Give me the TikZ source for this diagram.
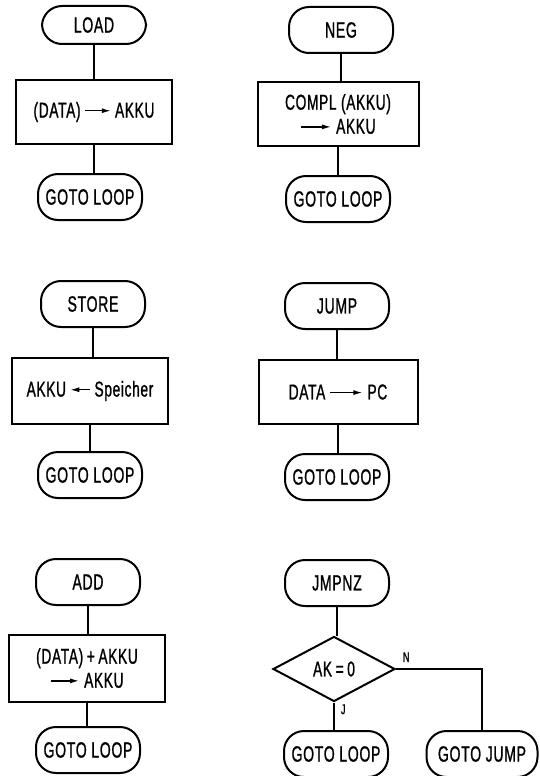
\documentclass[tikz,border=0pt]{standalone}
\usepackage{fontspec}
\setmainfont{Liberation Sans}[FakeStretch=0.64,LetterSpace=3,FakeBold=1]
\usetikzlibrary{shapes.geometric,arrows.meta}
\newcommand{\pfeilrechts}[1][26pt]{\tikz[baseline=-0.6ex]\draw[line width=1.3pt,-{Latex[length=9pt,width=5pt]}] (0,0) -- (#1,0);}
\newcommand{\pfeillinks}{\tikz[baseline=-0.6ex]\draw[line width=1.3pt,{Latex[length=9pt,width=5pt]}-] (0,0) -- (20pt,0);}

\begin{document}
\begin{tikzpicture}[x=1pt,y=-1pt,line width=2pt,
  every node/.style={font=\fontsize{21.5}{24}\selectfont},
  endbox/.style={draw,rectangle,rounded corners=20pt,minimum width=104pt,minimum height=46pt,inner sep=2pt,
    font=\fontsize{22}{26}\selectfont},
  opbox/.style={draw,rectangle,minimum width=156pt,minimum height=64pt,align=center,inner sep=2pt},
  askbox/.style={draw,diamond,aspect=1.9,minimum width=122pt,minimum height=65pt,inner sep=0pt},
  marke/.style={font=\fontsize{14}{16}\selectfont,inner sep=1pt}]
\useasboundingbox (0,0) rectangle (540,776);

% LOAD
\node [endbox,minimum height=38pt] (load) at (94,25) {LOAD};
\node [opbox] (loadop) at (94,112) {(DATA)\,\pfeilrechts\,AKKU};
\node [endbox] (loadgo) at (90,197) {GOTO LOOP};
\draw (load.south) -- (load.south |- loadop.north);
\draw (loadop.south) -- (loadop.south |- loadgo.north);

% NEG
\node [endbox] (neg) at (341,30) {NEG};
\node [opbox,minimum width=161pt] (negop) at (338,114) {COMPL (AKKU)\\\pfeilrechts[30pt]\ AKKU};
\node [endbox] (neggo) at (338,199) {GOTO LOOP};
\draw (neg.south) -- (neg.south |- negop.north);
\draw (negop.south) -- (negop.south |- neggo.north);

% STORE
\node [endbox] (store) at (93,304) {STORE};
\node [opbox,minimum height=66pt] (storeop) at (90,391) {AKKU\,\pfeillinks\,Speicher};
\node [endbox] (storego) at (90,475) {GOTO LOOP};
\draw (store.south) -- (store.south |- storeop.north);
\draw (storeop.south) -- (storeop.south |- storego.north);

% JUMP
\node [endbox] (jump) at (337,306) {JUMP};
\node [opbox,minimum width=159pt] (jumpop) at (338,392) {DATA \pfeilrechts[32pt]\ PC};
\node [endbox] (jumpgo) at (337,477) {GOTO LOOP};
\draw (jump.south) -- (jump.south |- jumpop.north);
\draw (jumpop.south) -- (jumpop.south |- jumpgo.north);

% ADD
\node [endbox] (add) at (88,582) {ADD};
\node [opbox,minimum height=67pt] (addop) at (87,668) {(DATA)\,+\,AKKU\\\pfeilrechts[28pt]\ AKKU};
\node [endbox] (addgo) at (88,750) {GOTO LOOP};
\draw (add.south) -- (add.south |- addop.north);
\draw (addop.south) -- (addop.south |- addgo.north);

% JMPNZ
\node [endbox] (jmpnz) at (337,583) {JMPNZ};
\node [askbox] (akfrage) at (334,669) {AK\,=\,0};
\node [endbox] (jmpnzgo) at (336,754) {GOTO LOOP};
\node [endbox,minimum width=111pt] (jmpnzsprung) at (482,754) {GOTO JUMP};
\draw (jmpnz.south) -- (jmpnz.south |- akfrage.north);
\draw (akfrage.south) -- (akfrage.south |- jmpnzgo.north);
\draw (akfrage.east) -| (jmpnzsprung.north);
\node [marke,anchor=south west] (nein) at ([xshift=5pt,yshift=5pt]akfrage.east) {N};
\node [marke,anchor=north west] (ja) at ([xshift=5pt]akfrage.south) {J};
\end{tikzpicture}
\end{document}
